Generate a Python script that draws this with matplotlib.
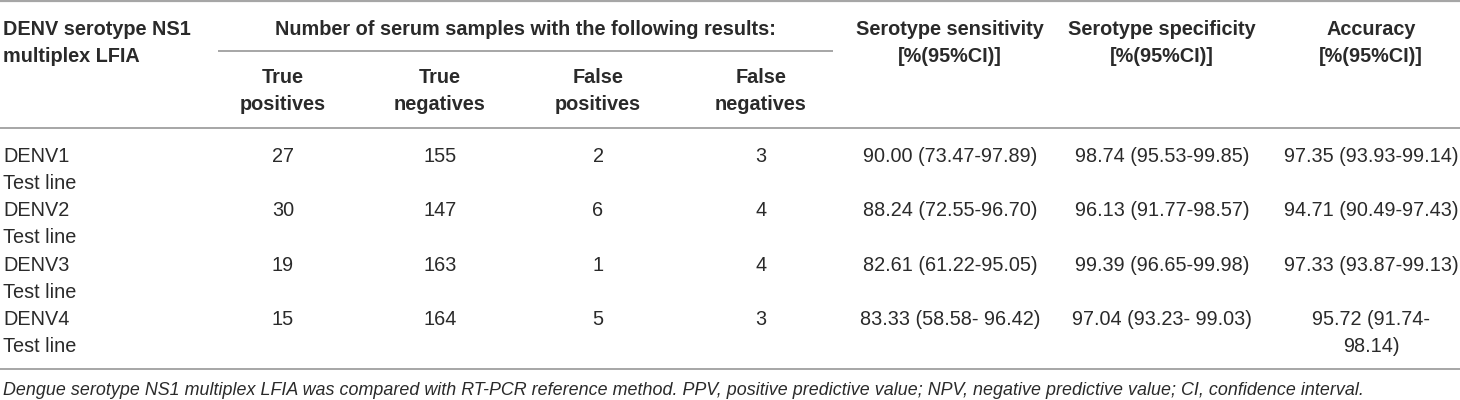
import matplotlib
matplotlib.use("Agg")
import matplotlib.pyplot as plt

# table content
col_heads = ["True\npositives", "True\nnegatives", "False\npositives", "False\nnegatives"]
group_head = "Number of serum samples with the following results:"
first_head = "DENV serotype NS1\nmultiplex LFIA"
stat_heads = ["Serotype sensitivity\n[%(95%CI)]", "Serotype specificity\n[%(95%CI)]", "Accuracy\n[%(95%CI)]"]

names = ["DENV1\nTest line", "DENV2\nTest line", "DENV3\nTest line", "DENV4\nTest line"]
tp = [27, 30, 19, 15]
tn = [155, 147, 163, 164]
fp = [2, 6, 1, 5]
fn = [3, 4, 4, 3]
sens = ["90.00 (73.47-97.89)", "88.24 (72.55-96.70)", "82.61 (61.22-95.05)", "83.33 (58.58- 96.42)"]
spec = ["98.74 (95.53-99.85)", "96.13 (91.77-98.57)", "99.39 (96.65-99.98)", "97.04 (93.23- 99.03)"]
acc = ["97.35 (93.93-99.14)", "94.71 (90.49-97.43)", "97.33 (93.87-99.13)", "95.72 (91.74-\n98.14)"]

footnote = ("Dengue serotype NS1 multiplex LFIA was compared with RT-PCR reference method. "
            "PPV, positive predictive value; NPV, negative predictive value; CI, confidence interval.")

# layout (pixel units, y downwards)
W, H = 1460, 400
x_name = 3
x_cols = [283, 440, 598, 761, 950, 1162, 1371]
head_base = 35
sub_base = 83
row_base = [162, 216, 271, 325]
line_gap = 27
txt_color = "#2a2a2a"
rule_color = "#a6a6a6"
fs = 14.3

plt.rcParams['font.family'] = ['Liberation Sans', 'DejaVu Sans']

fig = plt.figure(figsize=(W / 100, H / 100), dpi=100)
ax = fig.add_axes([0, 0, 1, 1])
ax.set_xlim(0, W)
ax.set_ylim(H, 0)
ax.axis("off")


def put(x, y, s, ha="center", **kw):
    for i, part in enumerate(str(s).split("\n")):
        ax.text(x, y + i * line_gap, part, ha=ha, va="baseline", fontsize=fs,
                color=txt_color, **kw)


# rules
ax.plot([0, W], [1, 1], color=rule_color, lw=1.6, solid_capstyle="butt")
ax.plot([218, 833], [51, 51], color=rule_color, lw=1.4, solid_capstyle="butt")
ax.plot([0, W], [128, 128], color=rule_color, lw=1.4, solid_capstyle="butt")
ax.plot([0, W], [369, 369], color=rule_color, lw=1.4, solid_capstyle="butt")

# header
put(x_name, head_base, first_head, ha="left", fontweight="bold")
put((218 + 833) / 2, head_base, group_head, fontweight="bold")
for x, h in zip(x_cols[:4], col_heads):
    put(x, sub_base, h, fontweight="bold")
for x, h in zip(x_cols[4:], stat_heads):
    put(x, head_base, h, fontweight="bold")

# body
for i, y in enumerate(row_base):
    put(x_name, y, names[i], ha="left")
    vals = [tp[i], tn[i], fp[i], fn[i], sens[i], spec[i], acc[i]]
    for x, v in zip(x_cols, vals):
        put(x, y, v)

ax.text(x_name, 395, footnote, ha="left", va="baseline", fontsize=12.85,
        style="italic", color=txt_color)

fig.savefig("out.png", dpi=100)
